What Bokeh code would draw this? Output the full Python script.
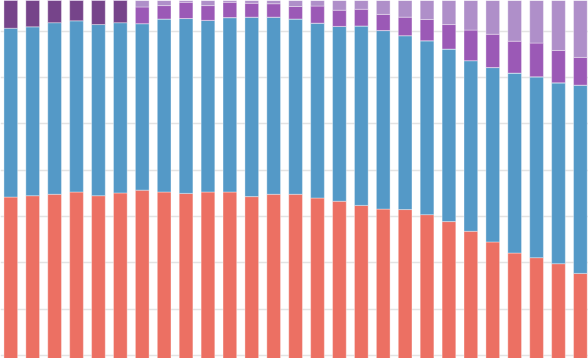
from bokeh.plotting import figure
from bokeh.models import ColumnDataSource, Range1d, SingleIntervalTicker
from bokeh.embed import file_html
from bokeh.resources import INLINE

# categories (bar positions)
cats = list(range(27))

# series values (percent shares)
red = [54.2, 54.5, 54.8, 55.3, 54.5, 55.1, 55.7, 55.3, 55.0, 55.3, 55.3, 54.3, 54.8, 54.8,
       54.0, 53.3, 52.4, 51.6, 51.5, 50.4, 48.9, 46.8, 44.5, 42.1, 41.1, 39.8, 37.7]
blue = [36.5, 36.5, 37.1, 37.0, 37.0, 36.8, 36.0, 37.4, 37.8, 37.1, 37.7, 38.8, 38.3, 37.9,
        37.8, 37.8, 38.8, 38.6, 37.6, 37.6, 37.3, 36.9, 37.7, 38.9, 39.1, 39.1, 40.7]
dark = [9.3, 9.0, 8.1, 7.7, 8.5, 8.1, 0, 0, 0, 0, 0, 0, 0, 0,
        0, 0, 0, 0, 0, 0, 0, 0, 0, 0, 0, 0, 0]
purple = [0, 0, 0, 0, 0, 0, 3.6, 2.9, 3.5, 3.2, 3.3, 3.0, 2.9, 2.7,
          3.7, 3.5, 3.6, 3.5, 4.0, 4.6, 5.3, 6.6, 7.2, 6.9, 7.3, 7.0, 6.0]
light = [0, 0, 0, 0, 0, 0, 4.7, 4.4, 3.7, 4.4, 3.7, 3.9, 4.0, 4.6,
         4.5, 5.4, 5.2, 6.3, 6.9, 7.4, 8.4, 9.7, 10.6, 12.1, 12.5, 14.1, 15.6]

series = ["red", "blue", "dark", "purple", "light"]
colors = ["#EC7063", "#5499C7", "#76448A", "#9B59B6", "#AF8FC9"]

source = ColumnDataSource(dict(x=cats, red=red, blue=blue, dark=dark, purple=purple, light=light))

p = figure(width=588, height=358, output_backend="svg", toolbar_location=None,
           x_range=Range1d(-0.47, 26.37), y_range=Range1d(19.3, 96.7),
           min_border=0, min_border_left=0, min_border_right=0,
           min_border_top=0, min_border_bottom=0)

p.vbar_stack(series, x="x", width=0.625, source=source, color=colors,
             line_color="white", line_alpha=0.35, line_width=1)

p.axis.visible = False
p.xgrid.visible = False
p.ygrid.ticker = SingleIntervalTicker(interval=10)
p.ygrid.grid_line_color = "#e3e3e3"
p.ygrid.grid_line_width = 1.5
p.outline_line_color = None
p.background_fill_color = "white"
p.border_fill_color = "white"

open("out.html", "w").write(file_html(p, INLINE))
